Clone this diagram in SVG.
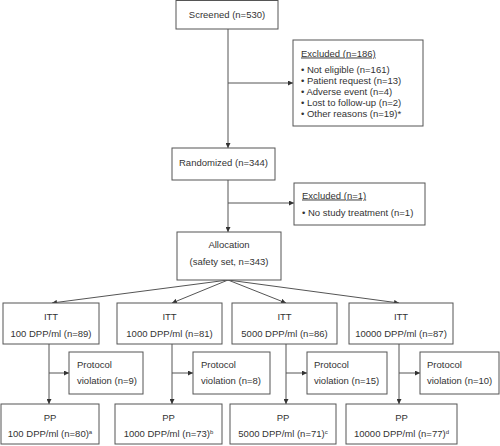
<svg xmlns="http://www.w3.org/2000/svg" width="500" height="446" viewBox="0 0 500 446">
<defs>
<marker id="ah" viewBox="0 0 10 10" refX="10" refY="5" markerWidth="5" markerHeight="5" orient="auto" markerUnits="userSpaceOnUse">
<path d="M0,0 L10,5 L0,10 z" fill="#333"/>
</marker>
<style>
.box{fill:#fff;stroke:#555;stroke-width:1}
.t{font-family:"Liberation Sans",Arial,sans-serif;font-size:9.5px;fill:#333}
.c{text-anchor:middle}
.ln{stroke:#555;stroke-width:1;fill:none}
.ar{stroke:#555;stroke-width:1;fill:none;marker-end:url(#ah)}
.sup{font-size:6px}
</style>
</defs>
<rect width="500" height="446" fill="#fff"/>
<g id="connectors">
<line class="ar" x1="228" y1="29" x2="228" y2="148"/>
<line class="ar" x1="228" y1="83" x2="293" y2="83"/>
<line class="ar" x1="228" y1="180" x2="228" y2="232"/>
<line class="ar" x1="228" y1="203" x2="294" y2="203"/>
<line class="ar" x1="228" y1="280" x2="52" y2="303"/>
<line class="ar" x1="228" y1="280" x2="172" y2="303"/>
<line class="ar" x1="228" y1="280" x2="286" y2="303"/>
<line class="ar" x1="228" y1="280" x2="399" y2="303"/>
<line class="ar" x1="49" y1="344" x2="49" y2="404"/>
<line class="ar" x1="49" y1="373" x2="69" y2="373"/>
<line class="ar" x1="172" y1="344" x2="172" y2="404"/>
<line class="ar" x1="172" y1="373" x2="193" y2="373"/>
<line class="ar" x1="286" y1="344" x2="286" y2="404"/>
<line class="ar" x1="286" y1="373" x2="307" y2="373"/>
<line class="ar" x1="399" y1="344" x2="399" y2="404"/>
<line class="ar" x1="399" y1="373" x2="420" y2="373"/>
</g>
<g id="screened">
<rect class="box" x="176" y="0.5" width="102" height="28.5"/>
<text class="t c" x="227" y="17.5">Screened (n=530)</text>
</g>
<g id="excluded1">
<rect class="box" x="293" y="40" width="130" height="86"/>
<text class="t" x="301" y="56.5" text-decoration="underline">Excluded (n=186)</text>
<text class="t" x="301" y="72.5">• Not eligible (n=161)</text>
<text class="t" x="301" y="83.5">• Patient request (n=13)</text>
<text class="t" x="301" y="94.5">• Adverse event (n=4)</text>
<text class="t" x="301" y="105.5">• Lost to follow-up (n=2)</text>
<text class="t" x="301" y="116.5">• Other reasons (n=19)*</text>
</g>
<g id="randomized">
<rect class="box" x="172" y="148" width="103" height="32"/>
<text class="t c" x="223.5" y="165.5">Randomized (n=344)</text>
</g>
<g id="excluded2">
<rect class="box" x="294" y="183" width="131" height="42"/>
<text class="t" x="302" y="198.5" text-decoration="underline">Excluded (n=1)</text>
<text class="t" x="302" y="215.5">• No study treatment (n=1)</text>
</g>
<g id="allocation">
<rect class="box" x="177" y="232" width="104" height="48"/>
<text class="t c" x="229" y="247.5">Allocation</text>
<text class="t c" x="229" y="264.5">(safety set, n=343)</text>
</g>
<g id="itt1">
<rect class="box" x="3" y="303" width="96" height="41"/>
<text class="t c" x="51" y="319.5">ITT</text>
<text class="t c" x="51" y="336.5">100 DPP/ml (n=89)</text>
</g>
<g id="itt2">
<rect class="box" x="117" y="303" width="105" height="41"/>
<text class="t c" x="169.5" y="319.5">ITT</text>
<text class="t c" x="169.5" y="336.5">1000 DPP/ml (n=81)</text>
</g>
<g id="itt3">
<rect class="box" x="232" y="303" width="105" height="41"/>
<text class="t c" x="284.5" y="319.5">ITT</text>
<text class="t c" x="284.5" y="336.5">5000 DPP/ml (n=86)</text>
</g>
<g id="itt4">
<rect class="box" x="349" y="303" width="104" height="41"/>
<text class="t c" x="401" y="319.5">ITT</text>
<text class="t c" x="401" y="336.5">10000 DPP/ml (n=87)</text>
</g>
<g id="pv1">
<rect class="box" x="69" y="352" width="74" height="42"/>
<text class="t" x="77" y="367.5">Protocol</text>
<text class="t" x="77" y="383.5">violation (n=9)</text>
</g>
<g id="pv2">
<rect class="box" x="193" y="352" width="77" height="42"/>
<text class="t" x="201" y="367.5">Protocol</text>
<text class="t" x="201" y="383.5">violation (n=8)</text>
</g>
<g id="pv3">
<rect class="box" x="307" y="352" width="80" height="42"/>
<text class="t" x="314" y="367.5">Protocol</text>
<text class="t" x="314" y="383.5">violation (n=15)</text>
</g>
<g id="pv4">
<rect class="box" x="420" y="352" width="79" height="42"/>
<text class="t" x="427" y="367.5">Protocol</text>
<text class="t" x="427" y="383.5">violation (n=10)</text>
</g>
<g id="pp1">
<rect class="box" x="1" y="404" width="98" height="40"/>
<text class="t c" x="50" y="420.5">PP</text>
<text class="t c" x="50" y="437">100 DPP/ml (n=80)<tspan class="sup" dy="-3">a</tspan></text>
</g>
<g id="pp2">
<rect class="box" x="115" y="404" width="107" height="40"/>
<text class="t c" x="168.5" y="420.5">PP</text>
<text class="t c" x="168.5" y="437">1000 DPP/ml (n=73)<tspan class="sup" dy="-3">b</tspan></text>
</g>
<g id="pp3">
<rect class="box" x="230" y="404" width="106" height="40"/>
<text class="t c" x="283" y="420.5">PP</text>
<text class="t c" x="283" y="437">5000 DPP/ml (n=71)<tspan class="sup" dy="-3">c</tspan></text>
</g>
<g id="pp4">
<rect class="box" x="346" y="404" width="111" height="40"/>
<text class="t c" x="401.5" y="420.5">PP</text>
<text class="t c" x="401.5" y="437">10000 DPP/ml (n=77)<tspan class="sup" dy="-3">d</tspan></text>
</g>
</svg>
